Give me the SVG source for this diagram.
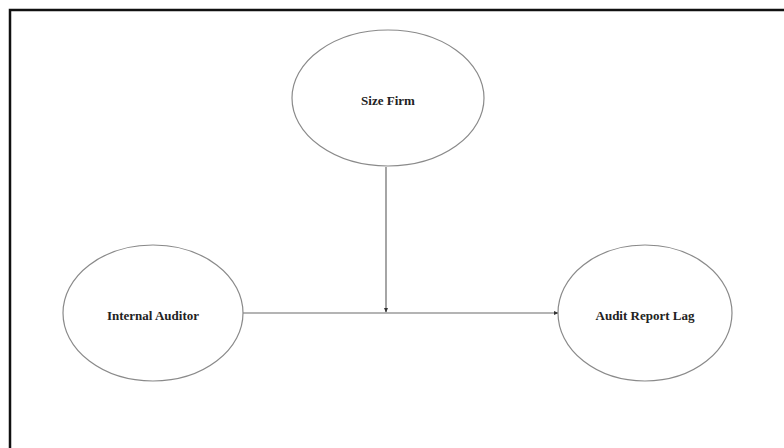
<svg xmlns="http://www.w3.org/2000/svg" width="784" height="448" viewBox="0 0 784 448">
<style>
.node ellipse{fill:#fff;stroke:#8a8a8a;stroke-width:1.2}
.node text{font-family:"Liberation Serif","Times New Roman",serif;font-weight:bold;font-size:13px;fill:#222;text-anchor:middle;dominant-baseline:central}
.conn line{stroke:#6a6a6a;stroke-width:1.2}
</style>
<defs>
<marker id="ah" markerWidth="5" markerHeight="5" refX="4" refY="2.5" orient="auto" markerUnits="userSpaceOnUse">
<path d="M0,0.5 L4.5,2.5 L0,4.5 Z" fill="#333"/>
</marker>
</defs>
<rect x="0" y="0" width="784" height="448" fill="#fff"/>
<path d="M10,448 L10,10 L784,10" fill="none" stroke="#111" stroke-width="2.5"/>
<g class="conn">
<line x1="243" y1="313" x2="558" y2="313" marker-end="url(#ah)"/>
<line x1="386" y1="167" x2="386" y2="312" marker-end="url(#ah)"/>
</g>
<g id="size-firm" class="node">
<ellipse cx="388" cy="98" rx="96" ry="68"/>
<text x="388" y="100">Size Firm</text>
</g>
<g id="internal-auditor" class="node">
<ellipse cx="153" cy="313" rx="90" ry="68"/>
<text x="153" y="315">Internal Auditor</text>
</g>
<g id="audit-report-lag" class="node">
<ellipse cx="645" cy="313" rx="87" ry="68"/>
<text x="645" y="315">Audit Report Lag</text>
</g>
</svg>
